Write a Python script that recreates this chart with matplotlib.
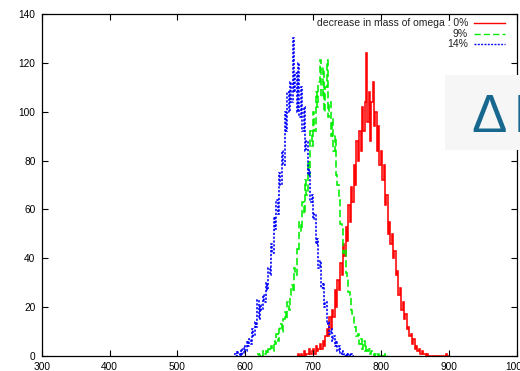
import numpy as np
import matplotlib
matplotlib.use("Agg")
import matplotlib.pyplot as plt
from matplotlib.patches import Rectangle

plt.rcParams['font.family'] = ['Liberation Sans', 'DejaVu Sans']

# Histogram bin width (MeV) and first bin edge of each series
BIN_W = 2
start_0, start_9, start_14 = 676, 618, 584

# Counts per bin: decrease in mass of omega 0%, 9%, 14%
counts_0 = [0, 1, 0, 1, 0, 2, 0, 1, 1, 3, 1, 2,
            3, 1, 4, 2, 3, 5, 3, 6, 4, 8,
            11, 8, 16, 11, 19, 16, 27, 20, 31, 27,
            38, 33, 46, 41, 53, 47, 62, 55, 69, 63,
            78, 70, 88, 80, 92, 84, 102, 92, 104, 124,
            96, 108, 88, 104, 112, 94, 100, 84, 94, 78,
            84, 72, 78, 62, 66, 50, 55, 46, 50, 40,
            43, 33, 35, 25, 28, 19, 22, 15, 17, 11,
            12, 8, 9, 5, 7, 3, 4, 2, 3, 1, 2, 1, 1, 0, 1, 0,
            0, 0, 0, 0, 0, 0, 0, 0, 0, 0, 0, 0, 1, 0]
counts_9 = [1, 0, 1, 0, 2, 1, 2, 1, 3, 2,
            4, 2, 6, 5, 9, 6, 11, 13, 10, 15,
            18, 15, 22, 19, 25, 29, 26, 36, 33, 44,
            43, 55, 51, 63, 58, 72, 66, 80, 74, 92,
            86, 100, 92, 108, 102, 112, 121, 106, 118, 100,
            110, 121, 98, 104, 90, 97, 84, 90, 74, 70,
            64, 54, 52, 42, 44, 34, 32, 26, 25, 19,
            17, 13, 12, 8, 9, 5, 7, 3, 6, 2,
            4, 2, 3, 1, 2, 1, 0, 1, 0, 1, 0, 1, 0, 0, 1, 0]
counts_14 = [1, 0, 2, 1, 0, 3, 1, 4, 2, 6,
             4, 7, 5, 11, 8, 14, 12, 23, 15, 21,
             19, 25, 22, 30, 27, 36, 33, 46, 42, 57,
             52, 64, 58, 75, 70, 84, 78, 100, 92, 108,
             100, 112, 104, 130, 108, 116, 100, 120, 98, 110,
             92, 102, 84, 88, 74, 76, 63, 66, 56, 58,
             46, 48, 36, 39, 28, 30, 20, 22, 13, 14,
             9, 11, 6, 8, 4, 6, 2, 4, 1, 2,
             1, 0, 1, 0, 1, 0, 1, 0]

labels = ["decrease in mass of omega : 0%", "9%", "14%"]
x_ticks = [300, 400, 500, 600, 700, 800, 900, 1000]
y_ticks = [0, 20, 40, 60, 80, 100, 120, 140]

series = [
    (start_0, counts_0, "#ff0000", "-"),
    (start_9, counts_9, "#00ee00", (0, (4.5, 2.2))),
    (start_14, counts_14, "#0000ff", (0, (1.4, 1.0))),
]

fig = plt.figure(figsize=(5.2, 3.71), dpi=100)
fig.patch.set_facecolor("white")
ax = fig.add_axes([0.0802, 0.0404, 0.9131, 0.9218])

for start, counts, color, ls in series:
    edges = start + BIN_W * np.arange(len(counts) + 1)
    ax.stairs(counts, edges, color=color, linestyle=ls, linewidth=1.15,
              baseline=None)

ax.set_xlim(300, 1000)
ax.set_ylim(0, 140)
ax.set_xticks(x_ticks)
ax.set_yticks(y_ticks)
ax.tick_params(direction="in", length=4.5, width=0.8, labelsize=7.3,
               top=True, right=True, colors="black", pad=4.5)
for sp in ax.spines.values():
    sp.set_linewidth(0.9)

# gnuplot-style key in the top right corner
key_y = [23.3, 33.7, 44.3]
H, W = 371, 520
for (start, counts, color, ls), lab, yy in zip(series, labels, key_y):
    fy = 1 - yy / H
    fig.text(468 / W, fy, lab, ha="right", va="center", fontsize=7.5,
             color="#222222")
    fig.add_artist(plt.Line2D([474 / W, 505 / W], [fy, fy], color=color,
                              linestyle=ls, linewidth=1.0))

# slide overlay panel with a heading that runs past the right edge
fig.add_artist(Rectangle((445 / W, 1 - 150 / H), 80 / W, 75 / H,
                         transform=fig.transFigure, facecolor="#f6f6f6",
                         edgecolor="none", zorder=5))
fig.text(471 / W, 1 - 132 / H, "Δ", fontsize=38, color="#17678f",
         ha="left", va="baseline", zorder=6)
fig.text(514 / W, 1 - 132 / H, "M", fontsize=38, color="#17678f",
         ha="left", va="baseline", zorder=6)

fig.savefig("out.png", dpi=100)
